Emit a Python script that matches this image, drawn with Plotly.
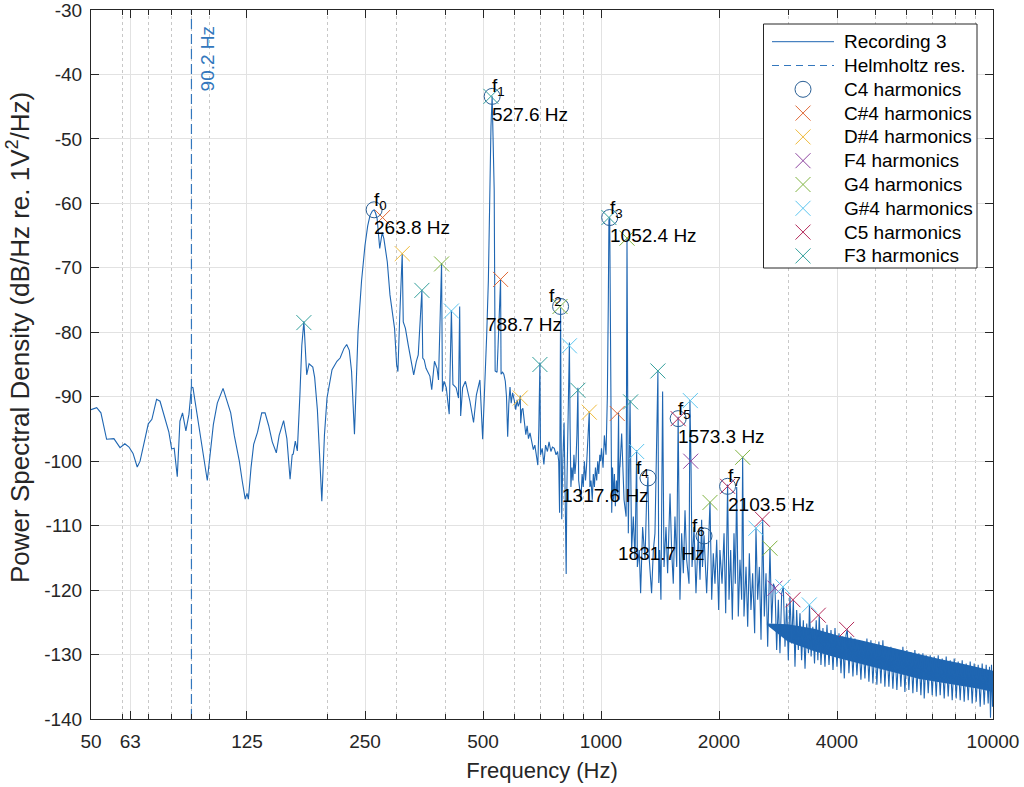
import math
import plotly.graph_objects as go

# ---------------- data ----------------
# spectrum, 50-240 Hz
low_f = [50, 51.7, 53, 54.8, 57.2, 59.3, 61, 62.5, 64, 65.6, 66.7, 68, 70, 71.5, 73.5, 75, 77.7, 79, 80.3, 81.5,
         83, 84.3, 85.6, 87.3, 88.9, 90.2, 91, 93.7, 96, 99, 102.6, 105, 108.6, 111, 113.6, 116, 119.5, 121.5, 123.7, 125,
         126, 128, 130, 133, 136.3, 139, 142, 145, 148.5, 151, 155, 158, 161, 163, 164, 166, 168, 170.6, 172.5, 174.6,
         176, 177.5, 180, 184, 186, 189, 194, 197, 200, 206, 212, 216, 221, 224.5, 228, 231, 235, 238, 240]
low_db = [-92, -91.7, -92.5, -96.6, -96.5, -97.9, -97.3, -97.8, -98.8, -100.9, -100, -97.5, -94.2, -93.5, -90.4, -90.7, -93.8, -95.5, -98.1, -98,
          -102.4, -93.8, -92.5, -95.3, -92.7, -88.5, -88.6, -93.8, -98, -103, -94.3, -91, -88.7, -90.5, -92.5, -96, -100, -103, -105.9, -105,
          -105.9, -101, -97.4, -95.5, -92.5, -92.5, -94.5, -97, -98.7, -96, -93.7, -96.5, -102.8, -99, -98.9, -96.9, -98.4, -89.6, -82, -78.3,
          -82, -86.6, -84.9, -85.4, -87, -92, -106.2, -96, -90.2, -85.8, -84.5, -84, -82.5, -81.9, -82.8, -86, -95.8, -86, -79.9]

# spectrum, 245-554 Hz
mid_f = [245, 250, 254, 257.4, 261, 263.8, 266, 268.5, 272.6, 276.6, 279.4, 285, 289.5, 297.4, 301, 303.3, 306.5, 311.1, 313, 317,
         322.3, 328.6, 332.8, 338, 341.8, 349.2, 351, 354, 357.8, 366, 370, 376, 381.7, 385, 392, 394, 397.5, 403, 410, 415.3,
         419, 427, 433, 436, 438.5, 443.6, 451, 463, 473, 481, 491, 499, 506, 511, 516, 521, 524, 527.6, 531, 534,
         537, 543, 548, 554.4]
mid_db = [-72, -66.5, -63.5, -61.9, -61.2, -61.0, -61.5, -62.4, -67, -64.5, -65.5, -69.1, -74.2, -79.4, -85, -86.1, -77.8, -67.8, -78.4, -79.4,
          -82, -85, -86.6, -84.5, -83.5, -73.5, -84, -84.3, -85.6, -86.8, -88.9, -84.5, -85.6, -87.4, -69.3, -89.2, -87.6, -88.6, -92.7, -76.6,
          -88.1, -88.6, -90.2, -76, -93, -88.6, -87.6, -90.7, -94, -89.7, -87.4, -96.6, -88.1, -80.4, -72, -55, -48, -43.4, -50, -58,
          -86, -86.2, -80, -71.8]

# spectrum, 556-1000 Hz
upper_mid_f = [556, 561, 565, 570, 574, 578, 582, 586, 590, 595, 601, 606, 611, 615, 619, 622.3, 624, 628, 632, 637,
               643, 648, 653, 659, 665, 672, 678, 684, 690, 694, 698.5, 701, 708, 715, 722, 730, 737, 745, 752, 760,
               768, 775, 780, 784, 786.5, 788.7, 791, 794, 799, 805, 810, 815, 818, 822, 827, 830.6, 834, 838, 843, 848,
               853, 858, 863, 868, 873.1, 877, 883, 889, 895, 901, 907, 913, 918, 924, 929, 933.4, 937, 943, 950, 956,
               962, 968, 975, 981, 987, 993, 998]
upper_mid_db = [-86.5, -86.2, -86.5, -87.6, -90, -96.2, -91, -88.5, -91, -89.4, -90.6, -92, -90.5, -91.5, -91, -89.8, -94.1, -92, -91.8, -94,
                -95.9, -94.5, -96.5, -95.6, -97, -98.2, -97.5, -99, -100.6, -95, -84.7, -99, -98, -100.5, -97.5, -98.5, -97, -98.5, -97.8, -98,
                -99, -98.5, -100, -108, -90, -76.2, -95, -109, -100, -94, -105, -117.5, -105, -98, -88, -81.6, -95, -104, -101, -103,
                -99, -102, -100, -96, -88.6, -103, -104.5, -106, -102, -104, -100, -103, -101, -97, -96, -92.3, -104, -103, -106, -102,
                -104, -101, -103, -100, -102, -99, -100]

# spectrum, 1003-1116 Hz
khz_f = [1003, 1012, 1020, 1030, 1038, 1044, 1047.7, 1052.4, 1056, 1060, 1065, 1070, 1076, 1082, 1088, 1095, 1102, 1108.7, 1112, 1116]
khz_db = [-98, -101, -96, -99, -90, -75, -62.6, -62.2, -80, -106, -108, -101, -106, -102, -107, -103, -105, -92.5, -106, -101]

# spectrum, 1118-3218 Hz
high_f = [1118, 1129, 1145, 1159, 1165, 1174, 1186, 1197, 1209, 1221, 1233, 1238, 1252, 1262, 1277, 1295, 1307, 1317.6, 1328, 1346,
          1360, 1373, 1396.9, 1404, 1411, 1422, 1436, 1448, 1465, 1479, 1500, 1514, 1529, 1544, 1560, 1573.3, 1590, 1606, 1622, 1638,
          1654, 1677, 1686, 1697, 1707, 1727, 1747, 1771, 1789, 1806, 1815, 1831.7, 1860, 1878, 1897, 1916, 1934, 1953, 1973, 1996,
          2011, 2036, 2060, 2080, 2103.5, 2121, 2142, 2163, 2184, 2201, 2219, 2240, 2262, 2285, 2298, 2316, 2344, 2367, 2390, 2413,
          2437, 2466, 2485, 2510, 2535, 2560, 2585, 2610, 2636, 2662, 2698, 2725, 2752, 2779, 2806, 2834, 2861, 2890, 2918, 2947,
          2976, 3005, 3034, 3065, 3095, 3125, 3156, 3187, 3218]
high_db = [-100.9, -95.7, -106, -108.6, -65.4, -111.2, -90.5, -113.8, -108.6, -115.3, -98.3, -116.4, -113.8, -120.5, -110.2, -115.3, -106, -102.4, -115.3, -120.5,
           -113.8, -111.2, -86.1, -118.9, -113.8, -121.5, -89.2, -116.4, -110.2, -117.4, -105, -113.8, -119, -108.6, -116.4, -93.1, -121.5, -111.2, -117.4, -107.6,
           -115.3, -119, -90.5, -100.9, -116.4, -110.2, -120.5, -111.2, -118.4, -109.1, -116.4, -111.5, -120.5, -113.8, -106.3, -121.5, -114.3, -119, -112.2, -123.1,
           -113.8, -119, -111.2, -123.6, -103.6, -121.5, -113.8, -124.6, -111.2, -119, -104, -124.1, -115.3, -121.5, -99.3, -124.1, -116.4, -125.7, -114.3, -123.1,
           -117.4, -126.7, -110.4, -121.5, -116.4, -127.7, -109.1, -124.1, -117.4, -128.8, -113.5, -125.2, -119, -119.7, -129.3, -121.5, -129.8, -120.5, -119.5, -128.8,
           -122.1, -130.9, -121, -128.3, -121.5, -131.9, -123.1, -129.3, -123.6]

# spectrum, 3249-10000 Hz
top_f = [3249, 3282, 3315, 3348, 3382, 3402, 3436, 3470, 3505, 3540, 3575, 3604, 3640, 3683, 3727, 3771, 3816, 3861, 3907, 3953,
         3999, 4047, 4095, 4135, 4175, 4216, 4249, 4290, 4340, 4392, 4444, 4496, 4549, 4603, 4658, 4713, 4768, 4824, 4881, 4939,
         4997, 5056, 5116, 5176, 5237, 5299, 5362, 5425, 5489, 5554, 5620, 5686, 5753, 5821, 5890, 5960, 6030, 6101, 6173, 6246,
         6320, 6395, 6470, 6547, 6624, 6676, 6755, 6835, 6916, 6997, 7080, 7163, 7248, 7333, 7420, 7508, 7596, 7686, 7777, 7869,
         7962, 8056, 8151, 8247, 8345, 8443, 8543, 8644, 8746, 8849, 8954, 9060, 9167, 9275, 9384, 9495, 9607, 9721, 9797, 9854,
         9912, 9970, 10000]
top_db = [-130.9, -124.7, -132.2, -125.2, -129.8, -122.3, -130.3, -125.7, -131.4, -124.7, -130.9, -123.9, -131.6, -125.9, -131.9, -125.4, -131.6, -126.2, -132.4, -125.9,
          -131.9, -126.7, -132.9, -127.2, -133.7, -127, -126.1, -132.9, -127.2, -133.4, -127.5, -133.2, -127.8, -133.9, -128, -133.7, -127.5, -134.2, -127.8, -134.5,
          -128.3, -134.7, -128, -134.5, -127.8, -135, -128.8, -135, -128.8, -135.3, -129.1, -135.5, -129.3, -135, -128.8, -135.8, -129.3, -135.5, -129.6, -136,
          -129.3, -135.8, -129.8, -136.3, -129.8, -136.8, -130.1, -136, -130.1, -136.3, -130.3, -136.5, -130.1, -136.3, -130.6, -136.8, -130.3, -136.5, -130.9, -137.1,
          -130.6, -136.8, -131.1, -137.1, -130.9, -137.3, -131.4, -137.1, -131.1, -137.6, -131.4, -137.3, -131.6, -138.1, -131.4, -137.8, -131.6, -137.6, -131.9, -139.8,
          -131.6, -138.1, -132.9]

# dense-noise core of the spectrum (upper / lower edge of the solid band)
band_f = [2650, 3000, 3500, 4000, 4600, 5200, 5800, 6500, 7300, 8200, 9200, 10000]
band_hi = [-125.2, -125.3, -126, -127, -127.8, -128.6, -129.3, -130, -130.7, -131.3, -132, -132.5]
band_lo = [-125.4, -128, -129.5, -130.5, -131.5, -132.3, -133, -133.8, -134.3, -134.8, -135.3, -135.8]

# harmonic markers
c4_f = [263.8, 527.6, 788.7, 1052.4, 1317.6, 1573.3, 1831.7, 2103.5]
c4_db = [-61.0, -43.4, -76.0, -62.2, -102.6, -93.4, -111.6, -103.9]
cs4_f = [277.2, 554.4, 1100]
cs4_db = [-62.2, -71.8, -92.6]
ds4_f = [311.1, 622.3, 933.4]
ds4_db = [-67.8, -90.2, -92.4]
f4_f = [1694, 2779]
f4_db = [-100.0, -119.7]
g4_f = [392.0, 786.0, 1165, 1897, 2298, 2698]
g4_db = [-69.4, -76.0, -65.4, -106.4, -99.4, -113.5]
gs4_f = [415.3, 830.6, 1233, 1690, 2485, 2912, 3400]
gs4_db = [-76.7, -82.1, -98.5, -90.6, -110.4, -119.5, -122.3]
c5_f = [1573.3, 2103.5, 2580, 3088, 3584, 4232]
c5_db = [-93.4, -103.9, -109.0, -121.5, -123.9, -126.1]
f3_f = [174.6, 349.2, 523.8, 698.5, 873.1, 1047.7, 1190, 1396.9]
f3_db = [-78.5, -73.5, -43.4, -85.0, -89.0, -62.2, -90.8, -86.0]

helmholtz_hz = 90.2
peak_labels = ["f<sub>0</sub>", "f<sub>1</sub>", "f<sub>2</sub>", "f<sub>3</sub>",
               "f<sub>4</sub>", "f<sub>5</sub>", "f<sub>6</sub>", "f<sub>7</sub>"]
x_ticks = [50, 63, 125, 250, 500, 1000, 2000, 4000, 10000]
x_minor = [60, 70, 80, 90, 100, 200, 300, 400, 600, 700, 800, 900, 3000, 5000, 6000, 7000, 8000, 9000]
y_ticks = [-140, -130, -120, -110, -100, -90, -80, -70, -60, -50, -40, -30]

# ---------------- styling ----------------
label_side = ["left", "left", "right", "left", "right", "left", "right", "left"]
LINE = "#1f66b2"
HELM = "#3377bd"
CIRC = "#2a5f95"
AX = "#262626"
FONT = "Liberation Sans, Arial, Helvetica, sans-serif"
X_SIZE = 15

series = [("C#4 harmonics", cs4_f, cs4_db, "#e06a38"),
          ("D#4 harmonics", ds4_f, ds4_db, "#efbb3c"),
          ("F4 harmonics", f4_f, f4_db, "#8e45a0"),
          ("G4 harmonics", g4_f, g4_db, "#80b441"),
          ("G#4 harmonics", gs4_f, gs4_db, "#5cc6f0"),
          ("C5 harmonics", c5_f, c5_db, "#b42a5a"),
          ("F3 harmonics", f3_f, f3_db, "#33a09c")]

freq = low_f + mid_f + upper_mid_f + khz_f + high_f + top_f
psd = low_db + mid_db + upper_mid_db + khz_db + high_db + top_db

fig = go.Figure()
fig.add_trace(go.Scatter(x=band_f + band_f[::-1], y=band_hi + band_lo[::-1], mode="lines",
                         fill="toself", fillcolor=LINE, line=dict(width=0, color=LINE),
                         showlegend=False, hoverinfo="skip"))
fig.add_trace(go.Scatter(x=freq, y=psd, mode="lines", name="Recording 3",
                         line=dict(color=LINE, width=1.1), showlegend=False))
fig.add_trace(go.Scatter(x=[helmholtz_hz, helmholtz_hz], y=[-140, -30], mode="lines",
                         name="Helmholtz res.", line=dict(color=HELM, width=1.2, dash="10px,5px"), showlegend=False))
fig.add_trace(go.Scatter(x=c4_f, y=c4_db, mode="markers", name="C4 harmonics", showlegend=False,
                         marker=dict(symbol="circle-open", size=16, color=CIRC, line=dict(width=1, color=CIRC))))
for name, xs, ys, col in series:
    fig.add_trace(go.Scatter(x=xs, y=ys, mode="markers", name=name, showlegend=False,
                             marker=dict(symbol="x-thin", size=X_SIZE, color=col, line=dict(width=1, color=col))))

# ---- legend drawn on an overlay axis (0..1 over the plot area) ----
H_PLOT = 709.0
W_PLOT = 902.0
row0, row_step = 31.7, 23.8          # px below the top of the plot area
box = dict(x0=672.5 / W_PLOT, x1=886.0 / W_PLOT, y0=1 - 258.0 / H_PLOT, y1=1 - 14.0 / H_PLOT)
fig.add_trace(go.Scatter(x=[box["x0"], box["x1"], box["x1"], box["x0"], box["x0"]],
                         y=[box["y0"], box["y0"], box["y1"], box["y1"], box["y0"]],
                         mode="lines", fill="toself", fillcolor="white", line=dict(color=AX, width=1),
                         xaxis="x2", yaxis="y2", showlegend=False, hoverinfo="skip"))
legend_entries = [("Recording 3", "line", LINE), ("Helmholtz res.", "dash", HELM),
                  ("C4 harmonics", "circle", CIRC)] + [(n, "x", c) for n, _, _, c in series]
lx0, lx1, lmark, ltext = 681.0 / W_PLOT, 743.0 / W_PLOT, 712.0 / W_PLOT, 751.0 / W_PLOT
annotations = []
for i, (name, kind, col) in enumerate(legend_entries):
    yy = 1 - (row0 + i * row_step) / H_PLOT
    if kind in ("line", "dash"):
        fig.add_trace(go.Scatter(x=[lx0, lx1], y=[yy, yy], mode="lines", xaxis="x2", yaxis="y2",
                                 line=dict(color=col, width=1.2 if kind == "dash" else 1,
                                           dash="solid" if kind == "line" else "7px,5px"),
                                 showlegend=False, hoverinfo="skip"))
    elif kind == "circle":
        fig.add_trace(go.Scatter(x=[lmark], y=[yy], mode="markers", xaxis="x2", yaxis="y2",
                                 marker=dict(symbol="circle-open", size=16, color=col, line=dict(width=1, color=col)),
                                 showlegend=False, hoverinfo="skip"))
    else:
        fig.add_trace(go.Scatter(x=[lmark], y=[yy], mode="markers", xaxis="x2", yaxis="y2",
                                 marker=dict(symbol="x-thin", size=X_SIZE, color=col, line=dict(width=1, color=col)),
                                 showlegend=False, hoverinfo="skip"))
    annotations.append(dict(x=ltext, y=yy, xref="x2", yref="y2", text=name, showarrow=False,
                            xanchor="left", yanchor="middle", font=dict(size=19, color="black", family=FONT)))

for lab, fx, fy, side in zip(peak_labels, c4_f, c4_db, label_side):
    xs = -2 if side == "left" else 3
    annotations.append(dict(x=math.log10(fx), y=fy, xref="x", yref="y", text=lab,
                            showarrow=False, xanchor=side, yanchor="middle", yshift=9, xshift=xs,
                            font=dict(size=19, color="black", family=FONT)))
    annotations.append(dict(x=math.log10(fx), y=fy, xref="x", yref="y", text=f"{fx:.1f} Hz",
                            showarrow=False, xanchor=side, yanchor="middle", yshift=-18, xshift=xs,
                            font=dict(size=19, color="black", family=FONT)))
annotations.append(dict(x=math.log10(helmholtz_hz), y=-37.6, xref="x", yref="y", text=f"{helmholtz_hz:.1f} Hz",
                        textangle=-90, showarrow=False, xanchor="center", yanchor="middle", xshift=17,
                        font=dict(size=19, color=HELM, family=FONT)))
# y-axis title (placed as in the reference, slightly above the axis centre)
annotations.append(dict(x=-72.0 / W_PLOT, y=1 - 328.0 / H_PLOT, xref="paper", yref="paper",
                        text="Power Spectral Density (dB/Hz re. 1V<sup>2</sup>/Hz)", textangle=-90,
                        showarrow=False, xanchor="center", yanchor="middle",
                        font=dict(size=26, color=AX, family=FONT)))

fig.update_layout(
    width=1024, height=787,
    margin=dict(l=91, r=31, t=10, b=68),
    plot_bgcolor="white", paper_bgcolor="white",
    font=dict(family=FONT, size=19, color=AX),
    annotations=annotations,
    showlegend=False,
    xaxis2=dict(overlaying="x", range=[0, 1], visible=False, fixedrange=True),
    yaxis2=dict(overlaying="y", range=[0, 1], visible=False, fixedrange=True),
)
fig.layout.xaxis.update(type="log", range=[math.log10(50), math.log10(10000)], automargin=False,
                        tickmode="array", tickvals=x_ticks, ticktext=[str(v) for v in x_ticks],
                        ticks="inside", ticklen=8, tickcolor=AX, tickfont=dict(size=19, color=AX),
                        ticklabelstandoff=5, ticklabeloverflow="allow",
                        showline=True, linecolor=AX, linewidth=1, mirror="ticks",
                        showgrid=True, gridcolor="#e2e2e2", gridwidth=1, zeroline=False,
                        minor=dict(tickmode="array", tickvals=x_minor, ticks="inside", ticklen=5, tickcolor=AX,
                                   showgrid=True, gridcolor="#c8c8c8", griddash="dot", gridwidth=1),
                        title=dict(text="Frequency (Hz)", font=dict(size=22, color=AX), standoff=11))
fig.layout.yaxis.update(range=[-140, -30], tickmode="array", tickvals=y_ticks,
                        ticktext=[f"{v}" for v in y_ticks], automargin=False,
                        ticks="inside", ticklen=8, tickcolor=AX, tickfont=dict(size=19, color=AX),
                        ticklabelstandoff=4, ticklabeloverflow="allow",
                        showline=True, linecolor=AX, linewidth=1, mirror="ticks",
                        showgrid=True, gridcolor="#e2e2e2", gridwidth=1, zeroline=False)

fig.write_html("out.html")
